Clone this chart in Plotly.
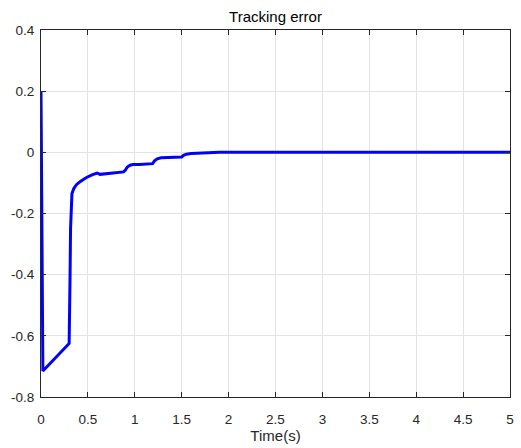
import plotly.graph_objects as go

time_s = [0, 0.003, 0.02, 0.30, 0.305, 0.31, 0.315, 0.32, 0.33, 0.35, 0.38, 0.42, 0.48,
          0.55, 0.60, 0.63, 0.70, 0.80, 0.88, 0.90, 0.92, 0.95, 0.98, 1.05, 1.15, 1.19,
          1.21, 1.24, 1.28, 1.35, 1.45, 1.50, 1.52, 1.55, 1.60, 1.70, 1.80, 1.90, 2.0,
          2.5, 3.0, 3.5, 4.0, 4.5, 5.0]
error = [0.2, 0.1, -0.715, -0.625, -0.55, -0.40, -0.25, -0.17, -0.135, -0.118, -0.105,
         -0.095, -0.083, -0.073, -0.068, -0.072, -0.070, -0.067, -0.064, -0.058, -0.048,
         -0.042, -0.040, -0.040, -0.039, -0.037, -0.028, -0.021, -0.018, -0.017, -0.017,
         -0.015, -0.010, -0.006, -0.004, -0.002, -0.001, 0.0, 0.0,
         0.0, 0.0, 0.0, 0.0, 0.0, 0.0]

x_ticks = [0, 0.5, 1, 1.5, 2, 2.5, 3, 3.5, 4, 4.5, 5]
x_labels = ["0", "0.5", "1", "1.5", "2", "2.5", "3", "3.5", "4", "4.5", "5"]
y_ticks = [-0.8, -0.6, -0.4, -0.2, 0, 0.2, 0.4]
y_labels = ["-0.8", "-0.6", "-0.4", "-0.2", "0", "0.2", "0.4"]

FONT = "Liberation Sans, Arial, Helvetica"

fig = go.Figure()
fig.add_trace(go.Scatter(x=time_s, y=error, mode="lines",
                         line=dict(color="#0000ff", width=3), showlegend=False))

axis_common = dict(showline=True, linecolor="#262626", linewidth=1, mirror="ticks",
                   ticks="inside", ticklen=5, tickcolor="#262626", automargin=False,
                   showgrid=True, gridcolor="#e3e3e3", gridwidth=1, zeroline=False,
                   tickfont=dict(family=FONT, size=13.5, color="#262626"))

fig.update_layout(
    width=521, height=448,
    margin=dict(l=41, r=11, t=30, b=51),
    paper_bgcolor="white", plot_bgcolor="white",
    title=dict(text="Tracking error", x=(41 + 510) / 2 / 521, xref="container", xanchor="center",
               y=1 - 17 / 448, yref="container", yanchor="middle",
               font=dict(family=FONT, size=15, color="#000000")),
    xaxis=dict(range=[0, 5], tickvals=x_ticks, ticktext=x_labels, ticklabelstandoff=10,
               title=dict(text="Time(s)", standoff=4,
                          font=dict(family=FONT, size=15, color="#262626")),
               **axis_common),
    yaxis=dict(range=[-0.8, 0.4], tickvals=y_ticks, ticktext=y_labels, ticklabelstandoff=3,
               **axis_common),
)

fig.write_html("out.html", config={"displayModeBar": False},
               post_script="document.body.style.margin='0';document.body.style.overflow='hidden';")
